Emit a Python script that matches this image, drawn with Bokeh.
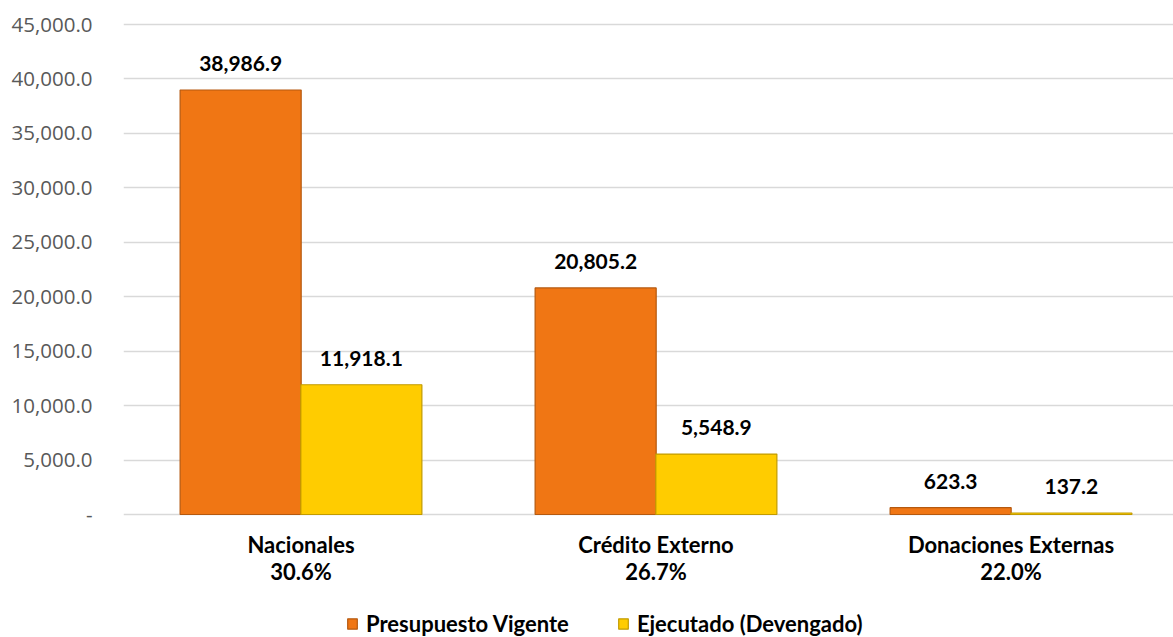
import numpy as np
from bokeh.plotting import figure
from bokeh.models import Range1d, ColumnDataSource, Legend, LegendItem, FixedTicker, LabelSet
from bokeh.core.properties import value
from bokeh.embed import file_html
from bokeh.resources import INLINE

categories = ["Nacionales", "Crédito Externo", "Donaciones Externas"]
percent_labels = ["30.6%", "26.7%", "22.0%"]
presupuesto = [38986.9, 20805.2, 623.3]
ejecutado = [11918.1, 5548.9, 137.2]
y_ticks = [0, 5000, 10000, 15000, 20000, 25000, 30000, 35000, 40000, 45000]
series_names = ["Presupuesto Vigente", "Ejecutado (Devengado)"]

ORANGE = "#F07614"
ORANGE_LINE = "#B5590F"
YELLOW = "#FFCC00"
YELLOW_LINE = "#C29B00"
FONT = "Lato"

W, H = 1173, 637
LEFT = 123
TOP = 20
ppu = 490 / 45000.0            # pixels per data unit on the value axis
y_end = 45000 + 4 / ppu
y_start = -(H - 514) / ppu     # room under the baseline for labels and legend
cat_px = 355.0
x_end = -0.5 + (W - LEFT) / cat_px

idx = np.arange(len(categories))
bw = 0.341
off = 0.17

src_p = ColumnDataSource(dict(x=idx - off, top=presupuesto,
                              lab=[f"{v:,.1f}" for v in presupuesto]))
src_e = ColumnDataSource(dict(x=idx + off, top=ejecutado,
                              lab=[f"{v:,.1f}" for v in ejecutado]))
src_c = ColumnDataSource(dict(x=idx, y=np.zeros(len(idx)), name=categories, pct=percent_labels))

p = figure(width=W, height=H, output_backend="svg", toolbar_location=None,
           x_range=Range1d(-0.5, x_end), y_range=Range1d(y_start, y_end),
           min_border_left=LEFT, min_border_right=0, min_border_top=TOP,
           min_border_bottom=0, outline_line_color=None)

r1 = p.vbar(x="x", top="top", width=bw, bottom=0, source=src_p,
            fill_color=ORANGE, line_color=ORANGE_LINE, line_width=1.2)
r2 = p.vbar(x="x", top="top", width=bw, bottom=0, source=src_e,
            fill_color=YELLOW, line_color=YELLOW_LINE, line_width=1.2)

lab_kw = dict(text_align="center", text_baseline="alphabetic",
              text_font=value(FONT), text_font_style="bold",
              text_color="#000000")
for src in (src_p, src_e):
    p.add_layout(LabelSet(x="x", y="top", text="lab", source=src, y_offset=19,
                          text_font_size="21px", **lab_kw))
p.add_layout(LabelSet(x="x", y="y", text="name", source=src_c, y_offset=-38,
                      text_font_size="22px", **lab_kw))
p.add_layout(LabelSet(x="x", y="y", text="pct", source=src_c, y_offset=-65,
                      text_font_size="22px", **lab_kw))

# grid
p.xgrid.grid_line_color = None
p.ygrid.grid_line_color = "#D9D9D9"
p.ygrid.grid_line_width = 1.5
p.ygrid.ticker = FixedTicker(ticks=y_ticks)

# y axis
p.yaxis.ticker = FixedTicker(ticks=y_ticks)
p.yaxis.major_label_overrides = {t: ("-" if t == 0 else f"{t:,.1f}") for t in y_ticks}
p.yaxis.axis_line_color = None
p.yaxis.major_tick_line_color = None
p.yaxis.minor_tick_line_color = None
p.yaxis.major_label_standoff = 25
p.yaxis.major_label_text_font = "Open Sans"
p.yaxis.major_label_text_font_size = "20.5px"
p.yaxis.major_label_text_color = "#595959"

p.xaxis.visible = False

legend = Legend(items=[LegendItem(label=series_names[0], renderers=[r1]),
                       LegendItem(label=series_names[1], renderers=[r2])],
                orientation="horizontal", location=(346 - LEFT, 0),
                border_line_color=None, background_fill_alpha=0,
                padding=0, margin=0, spacing=48,
                glyph_width=12, glyph_height=13, label_standoff=8,
                label_text_font=FONT, label_text_font_style="bold",
                label_text_font_size="22px", label_text_color="#000000")
p.add_layout(legend, "center")

open("out.html", "w").write(file_html(p, INLINE))
